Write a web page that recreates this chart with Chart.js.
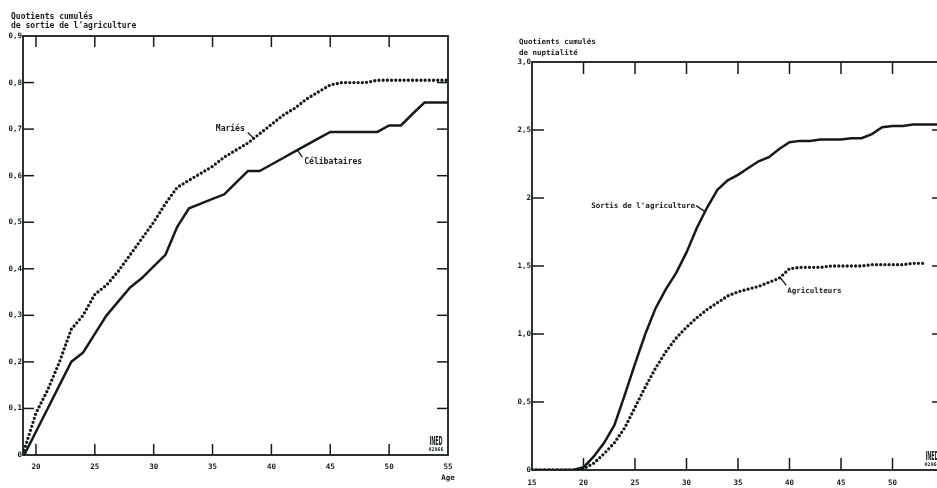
<!DOCTYPE html>
<html>
<head>
<meta charset="utf-8">
<script src="https://cdn.jsdelivr.net/npm/chart.js@4/dist/chart.umd.min.js"></script>
<style>
html, body { margin: 0; padding: 0; background: #fff; overflow: hidden; width: 937px; height: 488px; }
#gauche { position: absolute; left: 0; top: 0; }
#droite { position: absolute; left: 470px; top: 0; }
</style>
</head>
<body>
<canvas id="gauche" width="470" height="488"></canvas>
<canvas id="droite" width="500" height="488"></canvas>
<script>
//Daten -------------------------------------------------------------------
// graphique de gauche : sortie de l'agriculture
const agesG = [19, 20, 21, 22, 23, 24, 25, 26, 27, 28, 29, 30, 31, 32, 33, 34, 35, 36, 37,
               38, 39, 40, 41, 42, 43, 44, 45, 46, 47, 48, 49, 50, 51, 52, 53, 54, 55];
const maries = [0.01, 0.09, 0.14, 0.20, 0.27, 0.30, 0.345, 0.365, 0.395, 0.43, 0.465, 0.50, 0.54,
                0.575, 0.59, 0.605, 0.62, 0.64, 0.655, 0.67, 0.69, 0.71, 0.73, 0.745, 0.765, 0.78,
                0.795, 0.80, 0.80, 0.80, 0.805, 0.805, 0.805, 0.805, 0.805, 0.805, 0.805];
const celibataires = [0, 0.05, 0.10, 0.15, 0.20, 0.22, 0.26, 0.30, 0.33, 0.36, 0.38, 0.405, 0.43,
                      0.49, 0.53, 0.54, 0.55, 0.56, 0.585, 0.61, 0.61, 0.624, 0.638, 0.652, 0.666,
                      0.68, 0.694, 0.694, 0.694, 0.694, 0.694, 0.708, 0.708, 0.733, 0.757, 0.757, 0.757];
const xTicksG = [20, 25, 30, 35, 40, 45, 50, 55];
const yTicksG = [0, 0.1, 0.2, 0.3, 0.4, 0.5, 0.6, 0.7, 0.8, 0.9];
const yLabelsG = ['0', '0,1', '0,2', '0,3', '0,4', '0,5', '0,6', '0,7', '0,8', '0,9'];

// graphique de droite : nuptialité
const agesD = [15, 16, 17, 18, 19, 20, 21, 22, 23, 24, 25, 26, 27, 28, 29, 30, 31, 32, 33, 34, 35,
               36, 37, 38, 39, 40, 41, 42, 43, 44, 45, 46, 47, 48, 49, 50, 51, 52, 53, 54, 55];
const sortis = [0, 0, 0, 0, 0, 0.02, 0.10, 0.20, 0.33, 0.55, 0.78, 1.00, 1.19, 1.33, 1.45, 1.60,
                1.78, 1.93, 2.06, 2.13, 2.17, 2.22, 2.27, 2.30, 2.36, 2.41, 2.42, 2.42, 2.43, 2.43,
                2.43, 2.44, 2.44, 2.47, 2.52, 2.53, 2.53, 2.54, 2.54, 2.54, 2.54];
const agriculteurs = [0, 0, 0, 0, 0, 0.01, 0.05, 0.12, 0.20, 0.31, 0.46, 0.61, 0.75, 0.87, 0.97,
                      1.05, 1.12, 1.18, 1.23, 1.28, 1.31, 1.33, 1.35, 1.38, 1.41, 1.48, 1.49, 1.49,
                      1.49, 1.50, 1.50, 1.50, 1.50, 1.51, 1.51, 1.51, 1.51, 1.52, 1.52, null, null];
const xTicksD = [15, 20, 25, 30, 35, 40, 45, 50, 55];
const yTicksD = [0, 0.5, 1.0, 1.5, 2.0, 2.5, 3.0];
const yLabelsD = ['0', '0,5', '1,0', '1,5', '2', '2,5', '3,0'];
//-------------------------------------------------------------------------

const INK = '#141a1a';
const MONO = '"DejaVu Sans Mono", monospace';

function points(xs, ys) {
    return xs.map((a, i) => ({ x: a, y: ys[i] }));
}

// valeur d'une courbe à un âge donné (pour accrocher les étiquettes)
function valeurA(xs, ys, age) {
    for (let i = 0; i < xs.length - 1; i++) {
        if (age >= xs[i] && age <= xs[i + 1]) {
            const t = (age - xs[i]) / (xs[i + 1] - xs[i]);
            return ys[i] + t * (ys[i + 1] - ys[i]);
        }
    }
    return ys[ys.length - 1];
}

// cadre, petits traits vers l'intérieur, titres et étiquettes
const cadre = {
    id: 'cadre',
    afterDraw(chart, args, o) {
        const { ctx, chartArea: a } = chart;
        const x = chart.scales.x, y = chart.scales.y;
        const trait = (x1, y1, x2, y2) => { ctx.beginPath(); ctx.moveTo(x1, y1); ctx.lineTo(x2, y2); ctx.stroke(); };
        ctx.save();
        ctx.strokeStyle = INK;
        ctx.lineWidth = 1.8;
        ctx.strokeRect(a.left, a.top, a.right - a.left, a.bottom - a.top);

        ctx.lineWidth = 1.5;
        x.ticks.forEach(t => {
            const px = x.getPixelForValue(t.value);
            if (px < a.left + 3 || px > a.right - 3) return;
            trait(px, a.bottom, px, a.bottom - o.tick);
            trait(px, a.top, px, a.top + o.tick);
        });
        y.ticks.forEach(t => {
            const py = y.getPixelForValue(t.value);
            if (py > a.bottom - 3 || py < a.top + 3) return;
            trait(a.left, py, a.left + o.tick, py);
            trait(a.right, py, a.right - o.tick, py);
        });

        ctx.fillStyle = INK;
        ctx.font = 'bold ' + o.titleSize + 'px ' + MONO;
        ctx.textAlign = 'left';
        ctx.textBaseline = 'alphabetic';
        o.title.forEach((l, i) => ctx.fillText(l, a.left + o.titleDx, a.top + o.titleDy + i * o.titleGap));

        if (o.age) {
            ctx.font = 'bold 7.5px ' + MONO;
            ctx.textAlign = 'center';
            ctx.fillText(o.age, a.right, a.bottom + 25);
        }

        // étiquettes des courbes avec leur petit trait
        ctx.font = 'bold ' + o.noteSize + 'px ' + MONO;
        ctx.textBaseline = 'middle';
        ctx.lineWidth = 1.3;
        o.notes.forEach(n => {
            const ds = chart.data.datasets[n.serie];
            const xs = ds.data.map(p => p.x), ys = ds.data.map(p => p.y);
            const ax = x.getPixelForValue(n.age), ay = y.getPixelForValue(valeurA(xs, ys, n.age));
            trait(ax + n.l[0], ay + n.l[1], ax + n.l[2], ay + n.l[3]);
            ctx.textAlign = n.align;
            ctx.fillText(n.text, ax + n.t[0], ay + n.t[1]);
        });

        // logo INED (écrasé comme sur l'original)
        ctx.textAlign = 'center';
        ctx.textBaseline = 'alphabetic';
        ctx.save();
        ctx.translate(a.right - 12, a.bottom - 10);
        ctx.scale(0.6, 1.3);
        ctx.font = 'bold 9px "DejaVu Sans Condensed", sans-serif';
        ctx.fillText('INED', 0, 0);
        ctx.restore();
        ctx.font = 'bold 5px ' + MONO;
        ctx.fillText('02966', a.right - 12, a.bottom - 4);
        ctx.restore();
    }
};

function graphique(id, cfg) {
    return new Chart(document.getElementById(id), {
        type: 'line',
        data: {
            datasets: [{
                data: cfg.pointille,
                borderColor: INK,
                borderWidth: 3.3,
                borderDash: [0, 4.2],
                borderCapStyle: 'round',
                pointRadius: 0,
                tension: 0
            }, {
                data: cfg.plein,
                borderColor: INK,
                borderWidth: 2.5,
                pointRadius: 0,
                tension: 0
            }]
        },
        options: {
            responsive: false,
            animation: false,
            layout: { padding: cfg.padding },
            scales: {
                x: {
                    type: 'linear',
                    min: cfg.xmin, max: cfg.xmax,
                    grid: { display: false, drawTicks: false },
                    border: { display: false },
                    afterBuildTicks: s => { s.ticks = cfg.xTicks.map(v => ({ value: v })); },
                    afterFit: s => { s.height = cfg.xHeight; },
                    ticks: {
                        padding: cfg.xPad, color: INK, maxRotation: 0, autoSkip: false,
                        font: { family: MONO, weight: 'bold', size: 7.5 }
                    }
                },
                y: {
                    min: cfg.ymin, max: cfg.ymax,
                    grid: { display: false, drawTicks: false },
                    border: { display: false },
                    afterBuildTicks: s => { s.ticks = cfg.yTicks.map(v => ({ value: v })); },
                    afterFit: s => { s.width = cfg.yWidth; },
                    ticks: {
                        padding: 1, color: INK, autoSkip: false,
                        font: { family: MONO, weight: 'bold', size: 7.5 },
                        callback: v => cfg.yLabels[cfg.yTicks.findIndex(t => Math.abs(t - v) < 1e-9)]
                    }
                }
            },
            plugins: {
                legend: { display: false },
                tooltip: { enabled: false },
                cadre: cfg.cadre
            }
        },
        plugins: [cadre]
    });
}

graphique('gauche', {
    pointille: points(agesG, maries),
    plein: points(agesG, celibataires),
    xmin: 18.9, xmax: 55, ymin: 0, ymax: 0.9,
    xTicks: xTicksG, yTicks: yTicksG, yLabels: yLabelsG,
    padding: { top: 36, right: 22, left: 0, bottom: 0 },
    yWidth: 23, xHeight: 33, xPad: 8,
    cadre: {
        tick: 11,
        title: ['Quotients cumulés', "de sortie de l'agriculture"],
        titleSize: 8, titleDx: -12, titleDy: -17, titleGap: 9,
        noteSize: 8,
        age: 'Age',
        notes: [
            { text: 'Mariés', serie: 0, age: 38.5, l: [-6, -6, 0, 0], t: [-9, -10], align: 'right' },
            { text: 'Célibataires', serie: 1, age: 42.2, l: [0, 0, 5, 7], t: [7, 12], align: 'left' }
        ]
    }
});

graphique('droite', {
    pointille: points(agesD, agriculteurs),
    plein: points(agesD, sortis),
    xmin: 15, xmax: 55, ymin: 0, ymax: 3.0,
    xTicks: xTicksD, yTicks: yTicksD, yLabels: yLabelsD,
    padding: { top: 62, right: 26, left: 0, bottom: 0 },
    yWidth: 62, xHeight: 18, xPad: 9,
    cadre: {
        tick: 12,
        title: ['Quotients cumulés', 'de nuptialité'],
        titleSize: 7.5, titleDx: -13, titleDy: -18, titleGap: 11,
        noteSize: 7.5,
        age: 'Age',
        notes: [
            { text: "Sortis de l'agriculture", serie: 1, age: 31.8, l: [-9, -6, 0, 0], t: [-10, -6], align: 'right' },
            { text: 'Agriculteurs', serie: 0, age: 39.1, l: [0, 0, 6, 8], t: [7, 14], align: 'left' }
        ]
    }
});
</script>
</body>
</html>
